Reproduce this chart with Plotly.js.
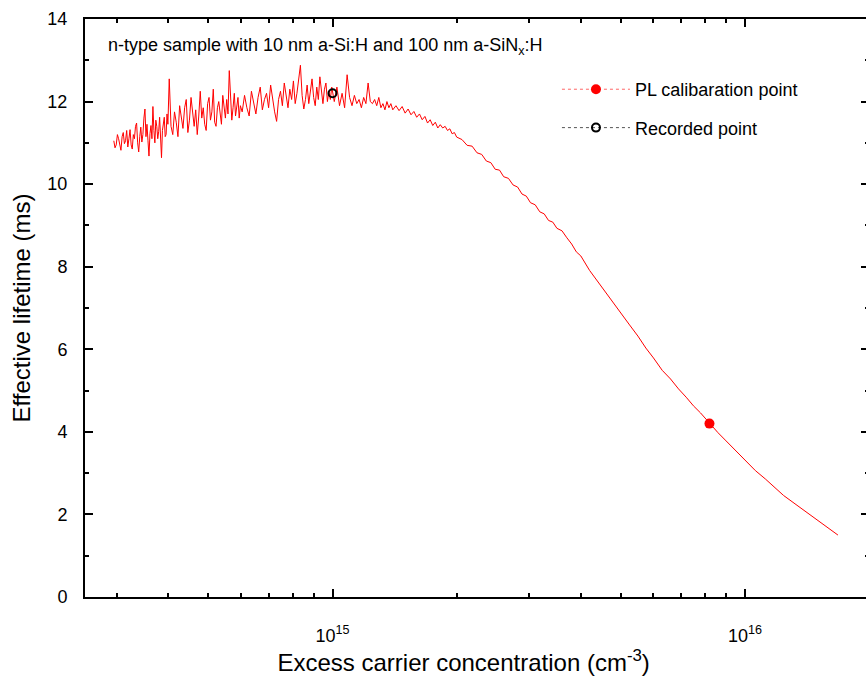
<!DOCTYPE html>
<html>
<head>
<meta charset="utf-8">
<script src="https://cdn.plot.ly/plotly-3.0.1.min.js"></script>
<style>
  html, body { margin: 0; padding: 0; overflow: hidden; background: #fff; }
  #chart { width: 870px; height: 684px; }
</style>
</head>
<body>
<div id="chart"></div>
<script>
// Excess carrier concentration in units of 1e14 cm^-3
const concentration_1e14 = [
  2.95,2.97,2.99,3.01,3.03,3.05,3.07,3.09,3.11,3.13,3.15,3.17,3.19,3.21,3.23,3.25,3.27,3.29,3.31,3.33,
  3.35,3.37,3.39,3.41,3.43,3.45,3.47,3.49,3.51,3.53,3.55,3.57,3.59,3.61,3.63,3.65,3.67,3.69,3.71,3.73,
  3.75,3.77,3.79,3.81,3.83,3.85,3.87,3.89,3.91,3.93,3.95,3.97,3.99,
  4.02,4.06,4.10,4.14,4.18,4.22,4.26,4.30,4.34,4.38,4.42,4.46,4.50,4.54,4.58,4.62,4.66,4.70,4.74,4.78,
  4.82,4.86,4.90,4.94,4.98,5.02,5.06,5.10,5.14,5.18,5.22,5.26,5.30,5.34,5.38,5.42,5.46,5.50,5.54,5.58,
  5.62,5.66,5.70,5.74,5.78,5.82,5.86,5.90,5.94,5.98,
  6.04,6.12,6.20,6.28,6.36,6.44,6.52,6.60,6.68,6.76,6.84,6.92,7.00,7.08,7.16,7.24,7.32,7.40,7.48,7.56,
  7.64,7.72,7.80,7.88,7.96,8.04,8.12,8.20,8.28,8.36,8.44,8.52,8.60,8.68,8.76,8.84,8.92,9.00,9.08,9.16,
  9.24,9.32,9.40,9.48,9.56,9.64,9.72,9.80,9.88,9.96,
  10.1,10.25,10.4,10.55,10.7,10.85,11.0,11.15,11.3,11.45,11.6,11.75,11.9,12.05,12.2,12.35,12.5,12.65,12.8,12.95,13.1,13.25,13.4,13.55,13.7,13.85,14.0,
  14.25,14.5,14.75,15.0,15.25,15.5,15.75,16.0,16.25,16.5,16.75,17.0,17.25,17.5,17.75,18.0,18.25,18.5,18.75,19.0,19.25,19.5,19.75,20.0,
  20.6,21.2,21.8,22.4,23.0,23.6,24.2,24.8,25.4,26.0,26.7,27.4,28.1,28.8,29.5,30.2,31.0,31.8,32.6,33.4,34.2,35.0,36.0,37.0,38.0,39.0,40.0,
  42,44,46,48,50,52.5,55,57.5,60,63,66,69,72,75,78,
  82,86,90,95,100,106,112,118,124,130,137,144,151,158,164,168
];
// Effective lifetime (ms)
const lifetime_ms = [
  11.05,10.88,10.95,11.20,11.10,10.90,10.82,11.15,11.25,10.98,11.05,11.30,10.90,11.10,11.32,10.95,10.85,11.20,11.10,11.40,
  11.48,11.00,10.78,11.15,11.38,11.02,11.20,11.60,11.82,11.15,11.45,11.05,10.68,11.22,11.42,11.10,11.88,11.30,11.00,11.55,
  11.40,11.10,11.28,11.62,10.95,10.64,11.30,11.50,11.62,11.15,11.20,11.70,11.45,
  12.55,11.40,11.20,11.75,11.50,11.15,11.90,11.60,11.35,11.85,12.05,11.25,11.55,12.10,11.70,11.40,11.80,11.20,11.65,12.25,
  11.60,11.85,11.45,11.30,11.95,12.10,11.55,11.75,12.30,11.50,11.40,11.85,12.00,11.65,11.45,12.15,11.80,11.60,12.05,11.70,
  12.75,11.90,11.55,11.85,12.20,11.65,11.95,12.10,11.60,11.90,
  11.75,12.15,11.85,11.65,12.25,11.95,11.70,12.10,12.35,11.80,12.05,12.20,11.85,12.40,12.00,11.75,11.52,12.05,12.25,11.90,
  12.45,12.10,11.85,12.30,12.05,12.50,11.95,12.20,12.55,12.88,12.15,11.82,12.05,12.40,11.95,12.25,12.55,12.10,11.90,12.35,
  12.05,12.60,12.20,11.95,12.30,12.45,12.00,12.25,12.05,12.35,
  12.00,12.35,11.90,12.20,11.85,12.65,12.10,11.90,12.15,11.95,12.05,11.85,12.10,11.95,12.45,12.00,11.95,12.05,11.90,12.10,11.85,11.95,11.80,12.00,11.85,11.95,11.80,
  11.90,11.78,11.88,11.72,11.82,11.68,11.76,11.62,11.70,11.56,11.64,11.48,11.56,11.42,11.50,11.36,11.44,11.36,11.40,11.30,11.34,11.22,11.25,11.14,
  11.08,10.94,10.92,10.76,10.72,10.56,10.52,10.36,10.34,10.18,10.14,9.98,9.93,9.76,9.71,9.55,9.50,9.33,9.28,9.12,9.08,8.93,8.87,8.70,8.55,8.36,8.26,
  7.91,7.63,7.39,7.11,6.89,6.59,6.32,6.03,5.79,5.49,5.28,5.04,4.84,4.63,4.46,
  4.20,3.98,3.78,3.54,3.30,3.06,2.86,2.65,2.46,2.31,2.14,1.98,1.83,1.69,1.57,1.50
];
const calibX = [8.2e15];
const calibY = [4.2];
const recordedX = [1.0e15];
const recordedY = [12.2];

const xMajorTicks = [1e15, 1e16];
const xMajorText = ['10<sup>15</sup>', '10<sup>16</sup>'];
const xMinorTicks = [3e14,4e14,5e14,6e14,7e14,8e14,9e14,2e15,3e15,4e15,5e15,6e15,7e15,8e15,9e15];

const FONT = '"Liberation Sans", Arial, sans-serif';

const traces = [
  {
    x: concentration_1e14.map(v => v * 1e14),
    y: lifetime_ms,
    type: 'scatter', mode: 'lines',
    line: { color: '#ff0000', width: 1 },
    showlegend: false, hoverinfo: 'skip'
  },
  {
    x: calibX, y: calibY, name: 'PL calibaration point',
    type: 'scatter', mode: 'lines+markers',
    line: { color: '#ff6666', width: 1, dash: 'dot' },
    marker: { color: '#ff0000', size: 10, symbol: 'circle' },
    legendgroup: 'a'
  },
  {
    x: recordedX, y: recordedY, name: 'Recorded point',
    type: 'scatter', mode: 'lines+markers',
    line: { color: '#555555', width: 1, dash: 'dot' },
    marker: { color: '#000000', size: 8, symbol: 'circle-open', line: { width: 2, color: '#000' } },
    legendgroup: 'b'
  }
];

const layout = {
  width: 870, height: 684,
  margin: { l: 85, r: 1, t: 19, b: 87 },
  paper_bgcolor: '#fff', plot_bgcolor: '#fff',
  font: { family: FONT, color: '#000', size: 18 },
  showlegend: true,
  legend: {
    x: 0.602, y: 0.91, xanchor: 'left', yanchor: 'top',
    bgcolor: 'rgba(0,0,0,0)', borderwidth: 0,
    font: { family: FONT, size: 18, color: '#000' },
    tracegroupgap: 12, itemwidth: 68
  },
  xaxis: {
    type: 'log',
    range: [14.4, 16.3006],
    showgrid: false, zeroline: false,
    showline: true, linecolor: '#000', linewidth: 2, mirror: 'ticks',
    ticks: 'inside', ticklen: 8, tickwidth: 2, tickcolor: '#000',
    tickmode: 'array', tickvals: xMajorTicks, ticktext: xMajorText,
    tickfont: { family: FONT, size: 18, color: '#000' },
    ticklabelstandoff: 21,
    minor: { tickmode: 'array', tickvals: xMinorTicks, ticks: 'inside', ticklen: 4, tickwidth: 2, tickcolor: '#000', showgrid: false },
    title: { text: 'Excess carrier concentration (cm<sup>-3</sup>)&nbsp;&nbsp;&nbsp;&nbsp;', font: { family: FONT, size: 24, color: '#000' }, standoff: 10 }
  },
  yaxis: {
    range: [0, 14],
    showgrid: false, zeroline: false,
    showline: true, linecolor: '#000', linewidth: 2, mirror: 'ticks',
    ticks: 'inside', ticklen: 8, tickwidth: 2, tickcolor: '#000',
    dtick: 2, tick0: 0,
    tickfont: { family: FONT, size: 18, color: '#000' },
    ticklabelstandoff: 12,
    minor: { dtick: 1, ticks: 'inside', ticklen: 4, tickwidth: 2, tickcolor: '#000', showgrid: false },
    title: { text: 'Effective lifetime (ms)', font: { family: FONT, size: 24, color: '#000' }, standoff: 10 }
  },
  annotations: [
    {
      xref: 'paper', yref: 'paper', x: 0.027, y: 0.952,
      xanchor: 'left', yanchor: 'middle', showarrow: false,
      text: 'n-type sample with 10 nm a-Si:H and 100 nm a-SiN<sub>x</sub>:H',
      font: { family: FONT, size: 18, color: '#000' }
    }
  ]
};

Plotly.newPlot('chart', traces, layout, { displayModeBar: false, staticPlot: true });
</script>
</body>
</html>
